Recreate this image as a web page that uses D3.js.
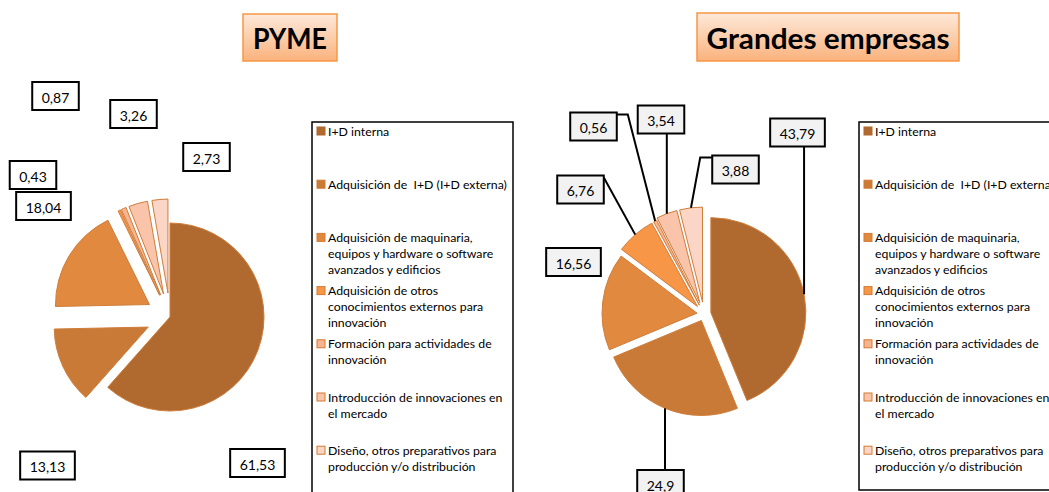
<!DOCTYPE html>
<html>
<head>
<meta charset="utf-8">
<script src="https://cdn.jsdelivr.net/npm/d3@7"></script>
<style>
  html, body { margin: 0; padding: 0; background: #fff; }
  svg { display: block; font-family: Lato, "Open Sans", sans-serif; }
</style>
</head>
<body>
<script>
// Innovation spending by activity type (%), SMEs vs. large firms
const categories = [
  "I+D interna",
  "Adquisición de  I+D (I+D externa)",
  "Adquisición de maquinaria,\nequipos y hardware o software\navanzados y edificios",
  "Adquisición de otros\nconocimientos externos para\ninnovación",
  "Formación para actividades de\ninnovación",
  "Introducción de innovaciones en\nel mercado",
  "Diseño, otros preparativos para\nproducción y/o distribución"
];
const pymeValues    = [61.53, 13.13, 18.04, 0.43, 0.87, 3.26, 2.73];
const grandesValues = [43.79, 24.9, 16.56, 6.76, 0.56, 3.54, 3.88];
const chartTitles   = ["PYME", "Grandes empresas"];

// Styling
const sliceFills = ["#b0692f", "#c97a37", "#e0893f", "#f79646", "#f8b390", "#f9c4aa", "#fbd5c6"];
const sliceStroke = "#cf7d3a";
const W = 1049, H = 492;

const svg = d3.select("body").append("svg").attr("width", W).attr("height", H);
const defs = svg.append("defs");
const grad = defs.append("linearGradient").attr("id", "titleFill")
  .attr("x1", 0).attr("y1", 0).attr("x2", 0).attr("y2", 1);
grad.append("stop").attr("offset", "0%").attr("stop-color", "#fde9da");
grad.append("stop").attr("offset", "100%").attr("stop-color", "#fab27c");

const fmt = v => String(v).replace(".", ",");
const pie = d3.pie().sort(null).value(d => d);

function drawTitle(text, box, textWidth) {
  const g = svg.append("g");
  g.append("rect").attr("x", box.x).attr("y", box.y).attr("width", box.w).attr("height", box.h)
    .attr("fill", "url(#titleFill)").attr("stroke", "#f79646").attr("stroke-width", 1.5);
  g.append("text").attr("x", box.x + box.w / 2).attr("y", box.y + box.h / 2)
    .attr("text-anchor", "middle").attr("dominant-baseline", "central")
    .attr("font-size", 29).attr("font-weight", 700).attr("fill", "#000")
    .attr("textLength", textWidth).attr("lengthAdjust", "spacingAndGlyphs")
    .text(text);
}

function drawLegend(box) {
  const g = svg.append("g");
  g.append("rect").attr("x", box.x).attr("y", box.y).attr("width", box.w).attr("height", box.h)
    .attr("fill", "#fff").attr("stroke", "#000").attr("stroke-width", 1.5);
  categories.forEach((c, i) => {
    const y0 = box.y + 9 + i * 53.2;
    g.append("rect").attr("x", box.x + 5).attr("y", y0 - 4).attr("width", 8).attr("height", 8)
      .attr("fill", sliceFills[i]).attr("stroke", i === 0 ? sliceFills[0] : "#d47a33").attr("stroke-width", 1);
    c.split("\n").forEach((line, j) => {
      g.append("text").attr("x", box.x + 16).attr("y", y0 + j * 16)
        .attr("dominant-baseline", "central").attr("font-size", 12.3).attr("fill", "#000")
        .attr("xml:space", "preserve")
        .text(line);
    });
  });
}

function drawPie(values, cfg) {
  const arc = d3.arc().innerRadius(0).outerRadius(cfg.r);
  const arcs = pie(values);
  const g = svg.append("g").attr("transform", `translate(${cfg.cx},${cfg.cy})`);
  const mid = d => (d.startAngle + d.endAngle) / 2;

  g.selectAll("path.slice").data(arcs).join("path").attr("class", "slice")
    .attr("transform", (d, i) => {
      const e = cfg.explode[i], a = mid(d);
      return `translate(${e * Math.sin(a)},${-e * Math.cos(a)})`;
    })
    .attr("d", arc)
    .attr("fill", (d, i) => sliceFills[i])
    .attr("stroke", sliceStroke).attr("stroke-width", 1);

  // data labels
  arcs.forEach((d, i) => {
    const L = cfg.labels[i];
    const lx = cfg.cx + L.dx, ly = cfg.cy + L.dy;
    const txt = fmt(values[i]);
    const lg = svg.append("g");
    const t = lg.append("text").attr("x", lx).attr("y", ly + 1)
      .attr("text-anchor", "middle").attr("dominant-baseline", "central")
      .attr("font-size", 14).attr("fill", "#000").text(txt);
    const tw = t.node().getComputedTextLength();
    const bw = tw + 19, bh = 28;
    const bx = lx - bw / 2, by = ly - bh / 2;
    lg.insert("rect", "text").attr("x", bx).attr("y", by).attr("width", bw).attr("height", bh)
      .attr("fill", cfg.labelFill).attr("stroke", "#000").attr("stroke-width", 2);

    if (L.leader) {
      const a = mid(d), rr = cfg.r + cfg.explode[i];
      const ex = cfg.cx + rr * Math.sin(a), ey = cfg.cy - rr * Math.cos(a);
      let pts;
      if (L.leader === "down") pts = [[ex, by + bh], [ex, ey]];
      else if (L.leader === "up") pts = [[ex, by], [ex, ey]];
      else if (L.leader === "left") pts = [[bx, by + 2], [bx - L.elbow, by + 2], [ex, ey]];
      else if (L.leader === "right") pts = [[bx + bw, by + 2], [bx + bw + L.elbow, by + 2], [ex, ey]];
      svg.append("path").attr("d", d3.line()(pts))
        .attr("fill", "none").attr("stroke", "#000").attr("stroke-width", 2);
    }
  });
}

drawTitle(chartTitles[0], { x: 243, y: 14, w: 94, h: 47 }, 74);
drawTitle(chartTitles[1], { x: 697, y: 13, w: 262, h: 48 }, 243);

drawPie(pymeValues, {
  cx: 170, cy: 317, r: 94,
  explode: [0, 24, 24, 24, 24, 24, 24],
  labelFill: "#fff",
  labels: [
    { dx: 87.5, dy: 146 }, { dx: -122.5, dy: 148.5 }, { dx: -126.5, dy: -111 },
    { dx: -137, dy: -142 }, { dx: -114.5, dy: -221 }, { dx: -36.5, dy: -203 },
    { dx: 36.5, dy: -160 }
  ]
});

drawPie(grandesValues, {
  cx: 704, cy: 314, r: 95,
  explode: [7, 7, 7, 10, 10, 12, 12],
  labelFill: "#f2f2f2",
  labels: [
    { dx: 93.5, dy: -181.5, leader: "down" },
    { dx: -43.5, dy: 170, leader: "up" },
    { dx: -130.5, dy: -52 },
    { dx: -123.5, dy: -124.5, leader: "right", elbow: 0 },
    { dx: -110.5, dy: -187.5, leader: "right", elbow: 11 },
    { dx: -43, dy: -194.5, leader: "down" },
    { dx: 31.5, dy: -144.5, leader: "left", elbow: 12 }
  ]
});

drawLegend({ x: 312, y: 122, w: 201, h: 380 });
drawLegend({ x: 859, y: 122, w: 201, h: 368 });
</script>
</body>
</html>
